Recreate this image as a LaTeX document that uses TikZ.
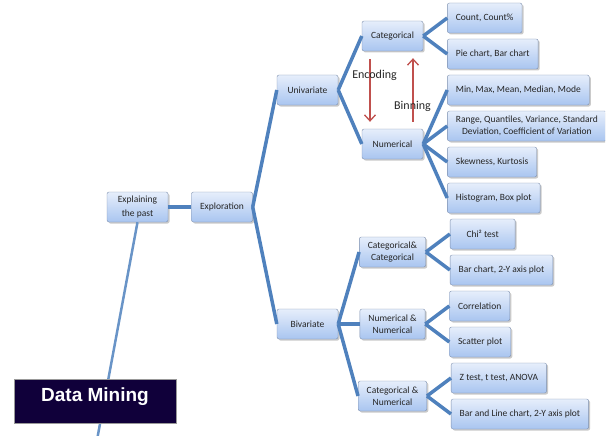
\documentclass[tikz,border=0pt]{standalone}
\usepackage{fontspec}
\setmainfont{Carlito}
\newfontfamily\titlefont{Liberation Sans}
\usetikzlibrary{shapes, arrows.meta, calc, shadows}

\definecolor{boxTop}{HTML}{E6EEFB}
\definecolor{boxBottom}{HTML}{A9C5F0}
\definecolor{boxBorder}{HTML}{7E90AE}
\definecolor{branchBlue}{HTML}{4F81BD}
\definecolor{arrowRed}{HTML}{C0504D}
\definecolor{titleNavy}{HTML}{10003A}

\tikzstyle{stepBox}   = [rectangle,
                         rounded corners=2pt,
                         minimum width=61pt,
                         minimum height=30pt,
                         inner xsep=8.5pt,
                         text centered,
                         align=center,
                         draw=boxBorder,
                         top color=boxTop,
                         bottom color=boxBottom,
                         text=black!85,
                         font=\fontsize{9.5}{11.5}\selectfont,
                         drop shadow={shadow xshift=1.5pt, shadow yshift=-1.5pt, opacity=.35, fill=black!60}]
\tikzstyle{leafBox}   = [stepBox, minimum width=60pt, anchor=west]
\tikzstyle{titleBox}  = [rectangle,
                         minimum width=162pt,
                         minimum height=44pt,
                         text depth=12pt,
                         fill=titleNavy,
                         draw=black!40,
                         text=white,
                         font=\titlefont\bfseries\fontsize{19}{22}\selectfont]
\tikzstyle{branch}    = [line width=3.5pt, draw=branchBlue]
\tikzstyle{thinBranch}= [line width=2.5pt, draw=branchBlue!85]
\tikzstyle{redArrow}  = [line width=1.3pt, draw=arrowRed, -{Straight Barb[length=6pt,width=11pt]}]
\tikzstyle{arrowText} = [font=\fontsize{12}{14}\selectfont, text=black!85]

\begin{document}
\begin{tikzpicture}[x=1pt, y=1pt]
\useasboundingbox (0,0) rectangle (616,-436);
\clip (0,0) rectangle (605,-436);

\node [stepBox] (Explaining) at (137.5,-207) {Explaining\\[2.5pt]the past};
\node [stepBox] (Exploration) at ([shift={(84.5,0)}] Explaining) {Exploration};

\node [stepBox] (Univariate) at ([shift={(85.5,117)}] Exploration) {Univariate};
\node [stepBox] (Bivariate)  at ([shift={(85.5,-117)}] Exploration) {Bivariate};

\node [stepBox] (Categorical) at ([shift={(85,54)}] Univariate) {Categorical};
\node [stepBox] (Numerical)   at ([shift={(85,-54)}] Univariate) {Numerical};

\node [stepBox] (CatCat) at ([shift={(85,72)}] Bivariate) {Categorical\&\\Categorical};
\node [stepBox] (NumNum) at ([shift={(85,0)}] Bivariate) {Numerical \&\\Numerical};
\node [stepBox] (CatNum) at ([shift={(85,-72)}] Bivariate) {Categorical \&\\Numerical};

% univariate leaves
\node [leafBox] (Count)    at ([shift={(24,18)}] Categorical.east) {Count, Count\%};
\node [leafBox] (Pie)      at ([shift={(24,-18)}] Categorical.east) {Pie chart, Bar chart};
\node [leafBox] (Central)  at ([shift={(24,54)}] Numerical.east) {Min, Max, Mean, Median, Mode};
\node [leafBox] (Spread)   at ([shift={(24,18)}] Numerical.east) {Range, Quantiles, Variance, Standard\\Deviation, Coefficient of Variation};
\node [leafBox] (Shape)    at ([shift={(24,-18)}] Numerical.east) {Skewness, Kurtosis};
\node [leafBox] (Hist)     at ([shift={(24,-54)}] Numerical.east) {Histogram, Box plot};

% bivariate leaves
\node [leafBox, minimum width=65pt] (Chi) at ([shift={(24,18)}] CatCat.east) {Chi² test};
\node [leafBox] (TwoAxis)  at ([shift={(24,-18)}] CatCat.east) {Bar chart, 2-Y axis plot};
\node [leafBox] (Corr)     at ([shift={(24,18)}] NumNum.east) {Correlation};
\node [leafBox] (Scatter)  at ([shift={(24,-18)}] NumNum.east) {Scatter plot};
\node [leafBox] (ZTest)    at ([shift={(24,18)}] CatNum.east) {Z test, t test, ANOVA};
\node [leafBox] (BarLine)  at ([shift={(24,-18)}] CatNum.east) {Bar and Line chart, 2-Y axis plot};

\draw [branch] (Explaining) -- (Exploration);
\draw [branch] (Exploration.east) -- (Univariate.west);
\draw [branch] (Exploration.east) -- (Bivariate.west);

\draw [branch] (Univariate.east) -- (Categorical.west);
\draw [branch] (Univariate.east) -- (Numerical.west);
\draw [branch] (Bivariate.east) -- (CatCat.west);
\draw [branch] (Bivariate.east) -- (NumNum.west);
\draw [branch] (Bivariate.east) -- (CatNum.west);

\foreach \leaf in {Count, Pie}
    \draw [branch] (Categorical.east) -- (\leaf.west);
\foreach \leaf in {Central, Spread, Shape, Hist}
    \draw [branch] (Numerical.east) -- (\leaf.west);
\foreach \leaf in {Chi, TwoAxis}
    \draw [branch] (CatCat.east) -- (\leaf.west);
\foreach \leaf in {Corr, Scatter}
    \draw [branch] (NumNum.east) -- (\leaf.west);
\foreach \leaf in {ZTest, BarLine}
    \draw [branch] (CatNum.east) -- (\leaf.west);

% encoding / binning
\draw [redArrow] ([shift={(-22.5,-8)}] Categorical.south) -- ([shift={(-22.5,7)}] Numerical.north);
\draw [redArrow] ([shift={(20.5,7)}] Numerical.north) -- ([shift={(20.5,-7)}] Categorical.south);
\node [arrowText] (Encoding) at ([shift={(-18,-39)}] Categorical) {Encoding};
\node [arrowText] (Binning)  at ([shift={(20,-70)}] Categorical) {Binning};

% up to the root
\coordinate (rootEdge) at (97,-440);
\draw [thinBranch] (Explaining.south) -- (rootEdge);
\node [titleBox] (DataMining) at (95,-401) {Data Mining};

\end{tikzpicture}
\end{document}
